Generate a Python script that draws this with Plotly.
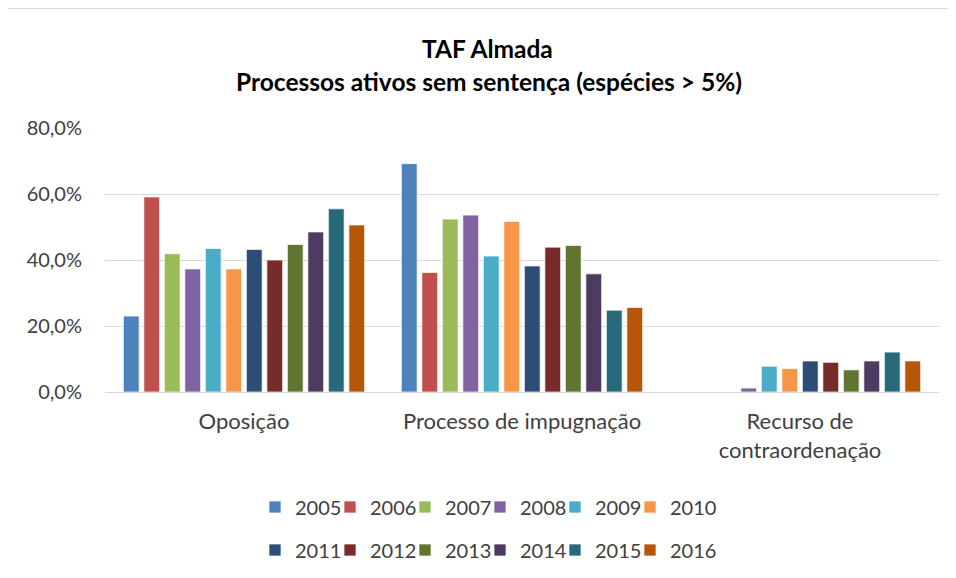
import plotly.graph_objects as go

categories = ["Oposição", "Processo de impugnação", "Recurso de<br>contraordenação"]
years = ["2005", "2006", "2007", "2008", "2009", "2010",
         "2011", "2012", "2013", "2014", "2015", "2016"]
colors = ["#4F81BD", "#C0504D", "#9BBB59", "#8064A2", "#4BACC6", "#F79646",
          "#2C4D75", "#772C2A", "#5F7530", "#4D3B62", "#276A7C", "#B65708"]

v2005 = [0.230, 0.692, None]
v2006 = [0.591, 0.362, None]
v2007 = [0.419, 0.524, None]
v2008 = [0.373, 0.536, 0.012]
v2009 = [0.435, 0.412, 0.078]
v2010 = [0.373, 0.517, 0.071]
v2011 = [0.432, 0.382, 0.094]
v2012 = [0.400, 0.439, 0.090]
v2013 = [0.447, 0.444, 0.067]
v2014 = [0.485, 0.358, 0.094]
v2015 = [0.555, 0.248, 0.121]
v2016 = [0.506, 0.256, 0.094]
values = [v2005, v2006, v2007, v2008, v2009, v2010,
          v2011, v2012, v2013, v2014, v2015, v2016]

FONT = "Lato, Calibri, Carlito, sans-serif"

# page body has an 8px margin: size the figure so it fits the 956x578 window
OFF = 8
W, H = 956 - 2 * OFF, 578 - 2 * OFF
L = 105 - OFF
R = W - (939 - OFF)
T = 128 - OFF
B = H - (392 - OFF)
pw = W - L - R
ph = H - T - B

def px_x(p):
    return (p - OFF - L) / pw

def px_y(p):
    return (H - B - (p - OFF)) / ph

fig = go.Figure()
legends = {}
col_left = [269, 344, 419, 494, 569, 644]   # left edge of legend squares (px)
row_y = [507, 550]                           # legend row centres (px)
for i, (yr, vals, col) in enumerate(zip(years, values, colors)):
    lname = "legend" if i == 0 else f"legend{i + 1}"
    fig.add_trace(go.Bar(
        name=yr, x=categories, y=vals,
        marker=dict(color=col, line=dict(color="rgba(255,255,255,0.7)", width=1)),
        legend=lname,
    ))
    legends[lname] = dict(
        x=px_x(col_left[i % 6] - 14), y=px_y(row_y[i // 6]),
        xanchor="left", yanchor="middle",
        font=dict(family=FONT, size=20, color="#404040"),
        itemwidth=30, bgcolor="rgba(0,0,0,0)", borderwidth=0,
    )

fig.update_layout(
    width=W, height=H,
    margin=dict(l=L, r=R, t=T, b=B, autoexpand=False),
    paper_bgcolor="white", plot_bgcolor="white",
    barmode="group", bargap=0.115, bargroupgap=0.23,
    separators=",.",
    font=dict(family=FONT, size=20, color="#404040"),
    showlegend=True,
    xaxis=dict(showline=False, ticks="", showgrid=False, ticklabelstandoff=14,
               tickfont=dict(family=FONT, size=22, color="#404040")),
    yaxis=dict(range=[0, 0.8], tickvals=[0, 0.2, 0.4, 0.6, 0.8], tickformat=".1%",
               showgrid=True, gridcolor="#D9D9D9", gridwidth=1,
               zeroline=True, zerolinecolor="#D9D9D9", zerolinewidth=1,
               showline=False, ticks="", ticklabelstandoff=22,
               tickfont=dict(family=FONT, size=20, color="#404040")),
    annotations=[
        dict(text="<b>TAF Almada</b>", xref="paper", yref="paper",
             x=px_x(487), y=px_y(49), xanchor="center", yanchor="middle",
             showarrow=False, font=dict(family=FONT, size=24.5, color="#000000")),
        dict(text="<b>Processos ativos sem sentença (espécies > 5%)</b>", xref="paper", yref="paper",
             x=px_x(489), y=px_y(81), xanchor="center", yanchor="middle",
             showarrow=False, font=dict(family=FONT, size=24.5, color="#000000")),
    ],
    shapes=[
        dict(type="rect", xref="paper", yref="paper",
             x0=px_x(5), x1=px_x(1200), y0=px_y(800), y1=px_y(8),
             line=dict(color="#D9D9D9", width=2), fillcolor="rgba(0,0,0,0)", layer="below"),
    ],
    **legends,
)

fig.write_html("out.html")
